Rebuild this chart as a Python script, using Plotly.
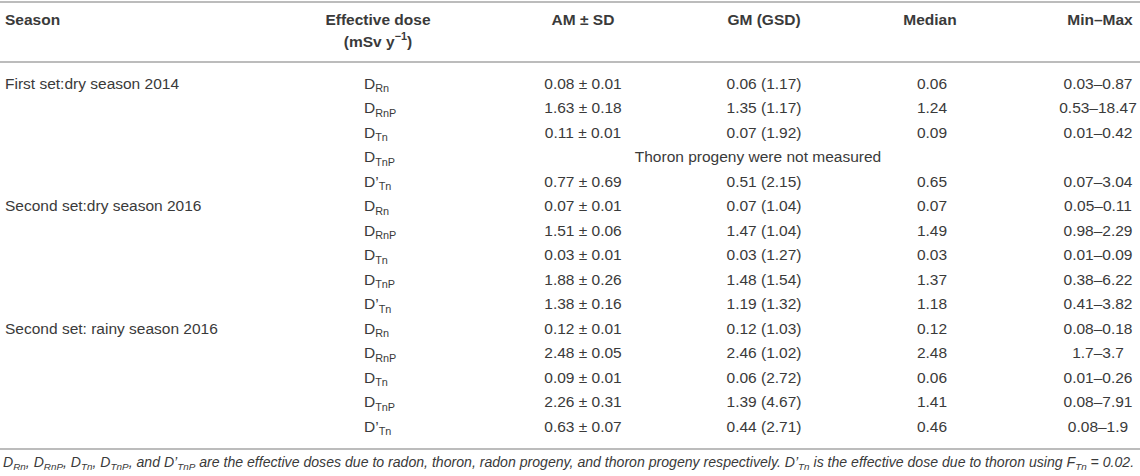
import plotly.graph_objects as go

# table content
seasons = ["First set:dry season 2014", "Second set:dry season 2016", "Second set: rainy season 2016"]
dose_labels = ["D<sub>Rn</sub>", "D<sub>RnP</sub>", "D<sub>Tn</sub>", "D<sub>TnP</sub>", "D’<sub>Tn</sub>"]

am_sd = ["0.08 ± 0.01", "1.63 ± 0.18", "0.11 ± 0.01", "", "0.77 ± 0.69",
         "0.07 ± 0.01", "1.51 ± 0.06", "0.03 ± 0.01", "1.88 ± 0.26", "1.38 ± 0.16",
         "0.12 ± 0.01", "2.48 ± 0.05", "0.09 ± 0.01", "2.26 ± 0.31", "0.63 ± 0.07"]
gm_gsd = ["0.06 (1.17)", "1.35 (1.17)", "0.07 (1.92)", "", "0.51 (2.15)",
          "0.07 (1.04)", "1.47 (1.04)", "0.03 (1.27)", "1.48 (1.54)", "1.19 (1.32)",
          "0.12 (1.03)", "2.46 (1.02)", "0.06 (2.72)", "1.39 (4.67)", "0.44 (2.71)"]
median = ["0.06", "1.24", "0.09", "", "0.65",
          "0.07", "1.49", "0.03", "1.37", "1.18",
          "0.12", "2.48", "0.06", "1.41", "0.46"]
min_max = ["0.03–0.87", "0.53–18.47", "0.01–0.42", "", "0.07–3.04",
           "0.05–0.11", "0.98–2.29", "0.01–0.09", "0.38–6.22", "0.41–3.82",
           "0.08–0.18", "1.7–3.7", "0.01–0.26", "0.08–7.91", "0.08–1.9"]
not_measured = "Thoron progeny were not measured"
not_measured_row = 3

headers = ["Season", "Effective dose", "(mSv y<sup>−1</sup>)", "AM ± SD", "GM (GSD)", "Median", "Min–Max"]
footnote = ("<i>D<sub>Rn</sub>, D<sub>RnP</sub>, D<sub>Tn</sub>, D<sub>TnP</sub>, and D’<sub>TnP</sub> "
            "are the effective doses due to radon, thoron, radon progeny, and thoron progeny respectively. "
            "D’<sub>Tn</sub> is the effective dose due to thoron using F<sub>Tn</sub> = 0.02.</i>")

W, H = 1140, 476
TXT = "#3a3a3a"
LINE = "#bcbcbc"
FONT = "Liberation Sans"
FS = 15.5

n_rows = len(am_sd)
row0, dy = 85, 24.5
ys = [row0 + i * dy for i in range(n_rows)]
labels = [dose_labels[i % 5] for i in range(n_rows)]
season_y = [ys[0], ys[5], ys[10]]

fig = go.Figure()


def col(x, y, text, pos, bold=False, size=FS):
    fig.add_trace(go.Scatter(
        x=[x] * len(y), y=y, text=text, mode="text", textposition=pos,
        textfont=dict(family=FONT, size=size, color=TXT, weight="bold" if bold else "normal"),
        hoverinfo="skip", showlegend=False, cliponaxis=False))


col(5, season_y, seasons, "middle right")
col(364, ys, labels, "middle right")
col(583, ys, am_sd, "middle center")
col(764, ys, gm_gsd, "middle center")
col(932, ys, median, "middle center")
col(1098, ys, min_max, "middle center")
col(758, [ys[not_measured_row]], [not_measured], "middle center")

# header
col(5, [21], [headers[0]], "middle right", True)
col(378, [21], [headers[1]], "middle center", True)
col(378, [43], [headers[2]], "middle center", True)
col(583, [21], [headers[3]], "middle center", True)
col(764, [21], [headers[4]], "middle center", True)
col(930, [21], [headers[5]], "middle center", True)
col(1100, [21], [headers[6]], "middle center", True)

for yl in [2, 62, 449]:
    fig.add_shape(type="line", x0=0, x1=W, y0=yl, y1=yl, xref="x", yref="y",
                  line=dict(color=LINE, width=2))

fig.add_annotation(x=1, y=463, xref="x", yref="y", text=footnote, showarrow=False,
                   xanchor="left", yanchor="middle",
                   font=dict(family=FONT, size=14.1, color=TXT))

fig.update_layout(
    width=W, height=H, margin=dict(l=0, r=0, t=0, b=0),
    paper_bgcolor="white", plot_bgcolor="white",
    xaxis=dict(range=[0, W], visible=False, fixedrange=True),
    yaxis=dict(range=[H, 0], visible=False, fixedrange=True),
)

# drop the default page margin so the figure fills the window
fig.write_html("out.html", config={"displayModeBar": False},
               post_script="document.body.style.margin='0px';")
